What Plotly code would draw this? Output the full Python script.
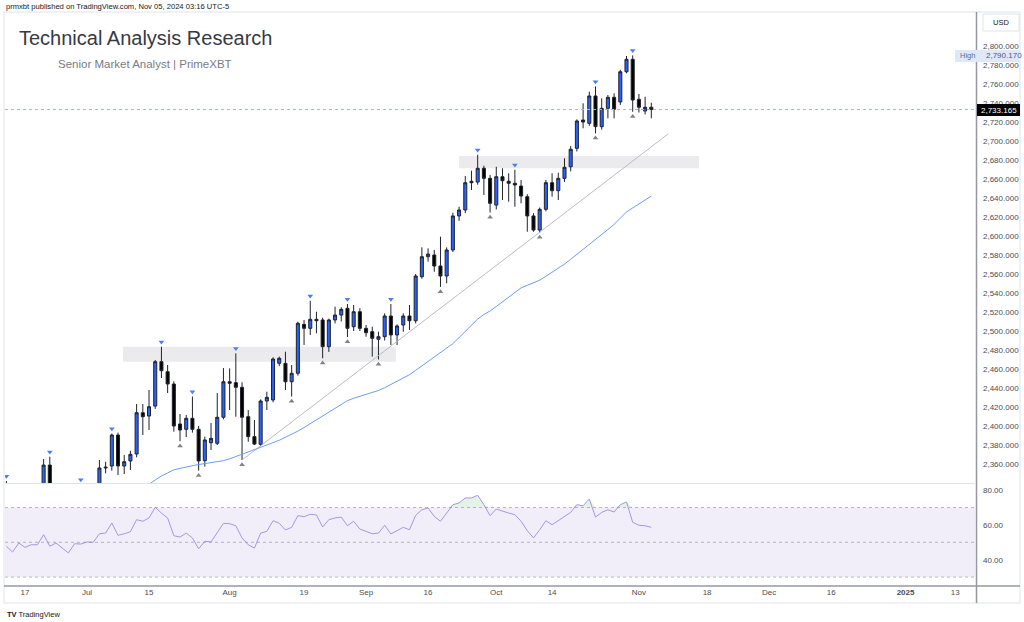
import plotly.graph_objects as go

# ---------------- data ----------------
# bar index 0 = Jun 17 2024 (trading days only)
bar_idx = list(range(-3, 102))

opens = [2316, 2324, 2304, 2331, 2319, 2329, 2328, 2358.9, 2322, 2333, 2319, 2298, 2327, 2326, 2332,
         2329, 2355.8, 2357.9, 2390.5, 2357.9, 2363.2, 2370.5, 2414, 2410.5, 2421, 2467.7, 2457.2, 2444.2,
         2402.1, 2396.5, 2408.1, 2396.5, 2363.5, 2382.4, 2381.8, 2409.2, 2446.6, 2445.6, 2440.7, 2409.8,
         2388.8, 2380.7, 2426.3, 2427.4, 2466, 2466, 2446.6, 2455.5, 2507, 2502.8, 2512.3, 2511.6, 2483.5,
         2511.6, 2516.8, 2523.9, 2504.5, 2520.3, 2502.8, 2499.3, 2491.3, 2494, 2515.8, 2495.8, 2506.3,
         2515.8, 2510.8, 2557.2, 2578.2, 2580, 2568.4, 2557.9, 2585.3, 2621.1, 2627.4, 2657.6, 2656.8,
         2671.3, 2660.7, 2632.6, 2662.4, 2657.6, 2655.5, 2652.6, 2641.4, 2621.1, 2606.3, 2628.1, 2656.1,
         2647.7, 2660.7, 2672.9, 2692.3, 2722.1, 2718.6, 2747.4, 2715.1, 2734.4, 2746, 2741.1, 2772.9,
         2786, 2743.9, 2731.6, 2735.5]
highs = [2342, 2326, 2332, 2335, 2333, 2336, 2365.3, 2367.7, 2334, 2335, 2325, 2330, 2338.5, 2339, 2337,
         2364.2, 2362.4, 2392, 2393, 2369.5, 2374, 2423.2, 2423.2, 2437.9, 2469.5, 2483.5, 2464.2, 2447,
         2412.6, 2411.6, 2431, 2400, 2388.8, 2403.2, 2434.7, 2461, 2460.7, 2476.5, 2446, 2416.8,
         2406.3, 2428, 2436.1, 2472.3, 2473, 2478.2, 2464.2, 2509.8, 2511.6, 2531.8, 2520.3, 2514, 2513,
         2525.6, 2525, 2528.4, 2527.4, 2524, 2506.3, 2504.5, 2499.3, 2518.6, 2528.4, 2507, 2518.6,
         2527.4, 2560, 2588.1, 2587, 2585.3, 2599.3, 2588, 2624.5, 2630.8, 2663.2, 2668.7, 2685.5,
         2674, 2664.2, 2672.9, 2671.3, 2666, 2669.7, 2659, 2644, 2624, 2630, 2659, 2666,
         2666.6, 2681.8, 2694.7, 2722.8, 2739.7, 2751.9, 2757.4, 2744.9, 2748.4, 2750.2, 2775, 2789.5,
         2790.17, 2749.5, 2746.6, 2740.3]
lows = [2298, 2301, 2301, 2310, 2316, 2323, 2325, 2316, 2319, 2309, 2293, 2297, 2319, 2318, 2319,
        2327, 2350.2, 2353, 2348.4, 2349.5, 2353.7, 2367, 2390.5, 2395.8, 2418, 2450.5, 2434.7, 2394,
        2384, 2388.4, 2393, 2353, 2357.2, 2374.7, 2380, 2407, 2416.8, 2409.8, 2364.2, 2383.5,
        2380, 2379, 2416.8, 2425, 2463, 2437.9, 2431, 2453, 2485.3, 2495.8, 2497.6, 2471.3, 2478,
        2508, 2510, 2493.7, 2500, 2500, 2494, 2473, 2470, 2490, 2485.3, 2485.3, 2499.3,
        2501, 2508, 2555, 2573, 2562.4, 2546.4, 2550.2, 2583, 2616, 2624, 2648.4, 2654,
        2643.2, 2624.7, 2628, 2637.9, 2636.1, 2630.8, 2634.4, 2604.5, 2604.5, 2603.6, 2626, 2641.4,
        2637.9, 2657, 2668, 2689, 2713.4, 2716, 2708.1, 2712, 2723.9, 2723.9, 2738, 2771.3,
        2730.8, 2730, 2728, 2723.9]
closes = [2324, 2304, 2331, 2319, 2329, 2328, 2358.9, 2322, 2333, 2319, 2298, 2327, 2326, 2332, 2329,
          2355.8, 2356.6, 2390.5, 2357.9, 2362.4, 2370.2, 2414, 2409.8, 2420.3, 2467.7, 2458.2, 2444.2, 2400,
          2395.8, 2408.1, 2396.5, 2363.2, 2385.3, 2387, 2409.2, 2446.6, 2445, 2440.7, 2409.2, 2388.8,
          2381, 2426.3, 2430.2, 2470.5, 2471.3, 2446.6, 2455.5, 2508.1, 2502.8, 2512.3, 2510.8, 2483.5, 2511.6,
          2516.8, 2522.8, 2502.8, 2520.3, 2502.8, 2498.2, 2492.3, 2494, 2515.8, 2495.8, 2505.3, 2515.8,
          2510.8, 2557.9, 2578.2, 2581, 2568.4, 2557.9, 2585.3, 2621.1, 2627.4, 2656.1, 2656.1, 2671.3,
          2660.7, 2634.4, 2662.4, 2658.2, 2655.5, 2653.7, 2642.1, 2621.1, 2606.3, 2628.1, 2656.1, 2647.7,
          2660.7, 2672.3, 2691.3, 2721.1, 2720, 2747.4, 2715.1, 2734.4, 2746, 2733.4, 2772.9, 2786,
          2743.2, 2735.5, 2735.5, 2733.165]

pivot_high_idx = [-3, 4, 9, 14, 22, 27, 34, 46, 52, 59, 73, 79, 92, 98]
pivot_low_idx = [25, 28, 35, 43, 48, 52, 57, 67, 75, 83, 92, 98]

ma_idx = list(range(18, 102))
ma_vals = [2327, 2333, 2338.6, 2343.2, 2347.4, 2350.6, 2353.8, 2355.4, 2357.1, 2358.2, 2359.4, 2360.3,
           2361.1, 2362.2, 2363.5, 2365.4, 2367.8, 2370.1, 2372.2, 2374.5, 2377.3, 2380.0, 2382.5,
           2385.0, 2388.1, 2391.4, 2394.6, 2398.4, 2402.4, 2406.5, 2410.5, 2414.6, 2418.6, 2422.7,
           2426.7, 2429.2, 2431.2, 2433.3, 2435.3, 2437.4, 2440.3, 2443.6, 2446.8, 2450.1, 2454.0,
           2458.6, 2463.3, 2468.0, 2472.6, 2477.3, 2482.0, 2486.7, 2493.1, 2499.6, 2506.1, 2512.6,
           2517.4, 2521.1, 2525.8, 2530.8, 2535.8, 2540.7, 2545.4, 2548.1, 2550.8, 2553.5, 2557.6,
           2561.8, 2566.0, 2570.4, 2575.5, 2580.6, 2585.7, 2590.8, 2596.2, 2601.5, 2606.8, 2612.3,
           2618.7, 2625.3, 2629.6, 2633.8, 2638.0, 2642.0]

rsi_vals = [47.7, 44.4, 49.6, 47.1, 48.6, 48.6, 54.4, 47.7, 49.6, 46.7, 43.9, 49.2, 49.0, 50.2, 50.0,
            54.9, 55.3, 61.1, 54.0, 54.9, 56.1, 63.0, 62.1, 64.0, 70.1, 66.8, 64.0, 53.8, 53.0, 55.3,
            52.5, 46.3, 50.6, 50.2, 55.3, 60.9, 60.7, 59.5, 52.5, 48.6, 46.7, 55.3, 56.3, 62.4, 60.9,
            57.1, 58.6, 65.3, 64.7, 66.1, 65.7, 58.8, 63.0, 64.0, 64.5, 59.5, 62.1, 57.6, 56.3, 54.9,
            55.3, 59.8, 54.8, 56.7, 58.6, 57.2, 65.5, 68.7, 69.7, 64.9, 62.1, 66.8, 71.6, 72.6, 75.5,
            75.5, 77.0, 71.6, 65.3, 69.1, 67.8, 66.8, 65.9, 62.1, 56.7, 52.5, 57.2, 62.4, 60.1, 62.4,
            64.4, 67.2, 71.6, 71.0, 74.9, 64.5, 67.2, 68.7, 67.4, 71.6, 73.2, 61.5, 59.8, 59.5, 58.6]

trend_x = [35, 103.7]
trend_y = [2364.2, 2707.4]

zone_x0 = [15.8, 70.0]
zone_x1 = [59.8, 108.7]
zone_y0 = [2467.7, 2671.3]
zone_y1 = [2483.5, 2684.2]

last_price = 2733.165
high_price = 2790.17

price_ticks = list(range(2360, 2801, 20))
rsi_ticks = [40, 60, 80]
time_tickvals = [0, 10, 20, 33, 45, 55, 65, 76, 85, 99, 110, 120, 130, 142, 150]
time_ticktext = ["17", "Jul", "15", "Aug", "19", "Sep", "16", "Oct", "14", "Nov", "18", "Dec", "16",
                 "<b>2025</b>", "13"]

# ---------------- figure ----------------
W, H = 1024, 622
def px(x):
    return x / W
def py(y):
    return (H - y) / H

FONT = "Liberation Sans, Arial, sans-serif"
X_RANGE = [-3.226, 153.2]

fig = go.Figure()

fig.add_trace(go.Scatter(x=trend_x, y=trend_y, mode="lines",
                         line=dict(color="#b2b5be", width=0.9), hoverinfo="skip", showlegend=False))
fig.add_trace(go.Scatter(x=ma_idx, y=ma_vals, mode="lines",
                         line=dict(color="#6f9bf7", width=1), hoverinfo="skip", showlegend=False))

fig.add_trace(go.Candlestick(
    x=bar_idx, open=opens, high=highs, low=lows, close=closes,
    increasing=dict(line=dict(color="#20232c", width=1), fillcolor="#2962ff"),
    decreasing=dict(line=dict(color="#20232c", width=1), fillcolor="#000000"),
    whiskerwidth=0, showlegend=False, hoverinfo="skip"))

pos = {b: k for k, b in enumerate(bar_idx)}
fig.add_trace(go.Scatter(x=pivot_high_idx, y=[highs[pos[i]] + 5 for i in pivot_high_idx], mode="markers",
                         marker=dict(symbol="triangle-down", size=5, color="#4f7df0"),
                         hoverinfo="skip", showlegend=False))
fig.add_trace(go.Scatter(x=pivot_low_idx, y=[lows[pos[i]] - 5 for i in pivot_low_idx], mode="markers",
                         marker=dict(symbol="triangle-up", size=5, color="#80838d"),
                         hoverinfo="skip", showlegend=False))

# RSI
fig.add_trace(go.Scatter(x=bar_idx, y=[70] * len(bar_idx), mode="lines", line=dict(width=0),
                         xaxis="x", yaxis="y2", hoverinfo="skip", showlegend=False))
fig.add_trace(go.Scatter(x=bar_idx, y=[max(v, 70) for v in rsi_vals], mode="lines", line=dict(width=0),
                         fill="tonexty", fillcolor="rgba(76,175,80,0.15)",
                         xaxis="x", yaxis="y2", hoverinfo="skip", showlegend=False))
fig.add_trace(go.Scatter(x=bar_idx, y=rsi_vals, mode="lines", line=dict(color="#a895e2", width=1),
                         xaxis="x", yaxis="y2", hoverinfo="skip", showlegend=False))

shapes = []
for x0, x1, y0, y1 in zip(zone_x0, zone_x1, zone_y0, zone_y1):
    shapes.append(dict(type="rect", xref="x", yref="y", x0=x0, x1=x1, y0=y0, y1=y1,
                       fillcolor="rgba(120,123,134,0.15)", line=dict(width=0), layer="below"))
shapes.append(dict(type="rect", xref="x domain", yref="y2", x0=0, x1=1, y0=30, y1=70,
                   fillcolor="rgba(126,87,194,0.1)", line=dict(width=0), layer="below"))
for lv in (70, 50, 30):
    shapes.append(dict(type="line", xref="x domain", yref="y2", x0=0, x1=1, y0=lv, y1=lv,
                       line=dict(color="rgba(120,123,134,0.5)", width=1, dash="3px,3px")))
shapes.append(dict(type="line", xref="x domain", yref="y", x0=0, x1=1, y0=last_price, y1=last_price,
                   line=dict(color="#f59aa1", width=1, dash="dot")))
# frame & separators
shapes.append(dict(type="rect", xref="paper", yref="paper", x0=px(4), x1=px(1020), y0=py(603), y1=py(12),
                   line=dict(color="#e0e3eb", width=1)))
shapes.append(dict(type="line", xref="paper", yref="paper", x0=px(5), x1=px(975), y0=py(483.5), y1=py(483.5),
                   line=dict(color="#e0e3eb", width=1)))
shapes.append(dict(type="line", xref="paper", yref="paper", x0=px(4), x1=px(1020), y0=py(586), y1=py(586),
                   line=dict(color="#9598a1", width=1.5)))
shapes.append(dict(type="line", xref="paper", yref="paper", x0=px(976.5), x1=px(976.5), y0=py(603), y1=py(12),
                   line=dict(color="#9598a1", width=1.5)))
# USD box
shapes.append(dict(type="rect", xref="paper", yref="paper", x0=px(983), x1=px(1019), y0=py(31), y1=py(14),
                   line=dict(color="#e0e3eb", width=1), fillcolor="white"))
# High label box
shapes.append(dict(type="rect", xref="paper", yref="paper", x0=px(955), x1=px(1020), y0=py(62), y1=py(50),
                   line=dict(width=0), fillcolor="#dfe8f7"))
# last price box
shapes.append(dict(type="rect", xref="paper", yref="paper", x0=px(977), x1=px(1020), y0=py(116), y1=py(104),
                   line=dict(width=0), fillcolor="#000000"))

ann = []
def text(x, y, t, size, color, anchor="left", **kw):
    ann.append(dict(xref="paper", yref="paper", x=px(x), y=py(y), text=t, showarrow=False,
                    xanchor=anchor, yanchor="middle", font=dict(family=FONT, size=size, color=color), **kw))

text(4, 6, "prmxbt published on TradingView.com, Nov 05, 2024 03:16 UTC-5", 7.6, "#131722")
text(17, 38, "Technical Analysis Research", 20, "#363a45")
text(56, 64, "Senior Market Analyst | PrimeXBT", 11.5, "#787b86")
text(1001, 22.5, "USD", 7.5, "#131722", anchor="center")
text(958, 56, "High", 7.5, "#5d6f96")
text(984, 56, f"{high_price:,.3f}", 8, "#4a5a80")
text(998.5, 110, f"{last_price:,.3f}", 8, "#ffffff", anchor="center")
text(5, 614, "<b>TV</b> TradingView", 7.5, "#131722")

fig.update_layout(
    width=W, height=H, margin=dict(l=0, r=0, t=0, b=0),
    paper_bgcolor="white", plot_bgcolor="white",
    showlegend=False, boxgap=0.3,
    shapes=shapes, annotations=ann,
    xaxis=dict(domain=[px(5), px(975)], range=X_RANGE, anchor="y2",
               tickvals=time_tickvals, ticktext=time_ticktext, ticks="",
               showgrid=False, zeroline=False, showline=False,
               tickfont=dict(family=FONT, size=8, color="#4a4d57"),
               rangeslider=dict(visible=False)),
    yaxis=dict(domain=[py(483), py(12)], range=[2340, 2835.8], side="right", anchor="x",
               tickvals=price_ticks, tickformat=",.3f", ticks="", ticklabelstandoff=7,
               showgrid=False, zeroline=False, showline=False,
               tickfont=dict(family=FONT, size=8, color="#4a4d57")),
    yaxis2=dict(domain=[py(586), py(484)], range=[24.9, 83.5], side="right", anchor="x",
                tickvals=rsi_ticks, tickformat=".2f", ticks="", ticklabelstandoff=7,
                showgrid=False, zeroline=False, showline=False,
                tickfont=dict(family=FONT, size=8, color="#4a4d57")),
)

fig.write_html("out.html", config={"displayModeBar": False})

# remove default page margin so the figure sits at the window's top-left corner
with open("out.html", "r", encoding="utf-8") as f:
    html = f.read()
html = html.replace("<head>", "<head><style>html,body{margin:0;padding:0;overflow:hidden;}</style>", 1)
with open("out.html", "w", encoding="utf-8") as f:
    f.write(html)
